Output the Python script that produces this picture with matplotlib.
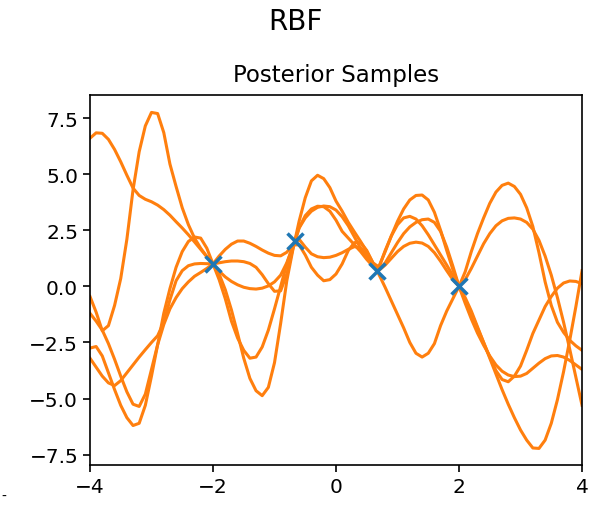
import numpy as np
import matplotlib
matplotlib.use("Agg")
import matplotlib.pyplot as plt

# observed training points
x_obs = [-2.0, -0.667, 0.667, 2.0]
y_obs = [1.0, 2.0, 0.7, 0.0]

# sample grid (step 0.1 from -4 to 4)
x_grid = np.round(np.arange(-4.0, 4.01, 0.1), 2)

# five posterior samples
sample1 = [6.60, 6.84, 6.82, 6.55, 6.10, 5.55, 4.95, 4.38, 4.05, 3.88, 3.77, 3.62, 3.42, 3.17, 2.88, 2.60, 2.30, 1.98, 1.65, 1.32, 1.00,
           0.68, 0.42, 0.22, 0.07, -0.04, -0.10, -0.12, -0.08, 0.02, 0.20, 0.50, 1.05, 1.80,
           2.10, 1.75, 1.45, 1.32, 1.28, 1.30, 1.38, 1.50, 1.65, 1.77, 1.72, 1.40, 0.95,
           0.72, 0.95, 1.25, 1.55, 1.78, 1.92, 1.97, 1.93, 1.78, 1.50, 1.12, 0.70, 0.30, 0.00,
           0.30, 0.80, 1.35, 1.90, 2.35, 2.70, 2.92, 3.03, 3.05, 3.00, 2.85, 2.55, 2.05, 1.35, 0.50, -0.50, -1.60, -2.80, -4.05, -5.30]
sample2 = [-0.45, -1.15, -1.98, -1.75, -0.85, 0.35, 2.10, 4.30, 6.00, 7.15, 7.75, 7.70, 6.85, 5.45, 4.45, 3.50, 2.75, 2.15, 1.70, 1.33, 1.00,
           0.55, -0.15, -1.05, -2.10, -3.20, -4.10, -4.65, -4.87, -4.50, -3.40, -1.65, 0.25, 1.65,
           2.90, 3.95, 4.70, 4.95, 4.80, 4.40, 3.80, 3.35, 2.85, 2.42, 2.00, 1.55, 1.05,
           0.52, -0.05, -0.65, -1.25, -1.85, -2.50, -2.98, -3.15, -2.98, -2.55, -1.75, -1.10, -0.55, 0.00,
           0.65, 1.55, 2.35, 3.05, 3.70, 4.20, 4.50, 4.60, 4.45, 4.10, 3.50, 2.67, 1.50, 0.20, -0.85, -1.60, -2.05, -2.40, -2.65, -2.85]
sample3 = [-2.75, -2.68, -3.10, -3.85, -4.60, -5.30, -5.85, -6.20, -6.10, -5.30, -4.00, -2.60, -1.20, -0.10, 0.85, 1.55, 2.00, 2.20, 2.15, 1.70, 1.00,
           0.30, -0.55, -1.55, -2.30, -2.85, -3.20, -3.15, -2.70, -1.95, -1.00, 0.00, 1.00, 1.80,
           2.60, 3.05, 3.35, 3.52, 3.58, 3.55, 3.40, 3.10, 2.70, 2.20, 1.70, 1.25, 0.90,
           0.75, 1.05, 1.50, 1.95, 2.35, 2.65, 2.85, 2.97, 3.00, 2.85, 2.45, 1.75, 0.90, 0.00,
           -0.75, -1.45, -2.08, -2.62, -3.10, -3.50, -3.78, -3.95, -4.02, -4.00, -3.88, -3.65, -3.42, -3.22, -3.10, -3.08, -3.15, -3.30, -3.50, -3.70]
sample4 = [-1.20, -1.55, -1.95, -2.55, -3.25, -4.00, -4.70, -5.25, -5.35, -4.80, -3.70, -2.60, -1.70, -1.00, -0.50, -0.10, 0.20, 0.45, 0.62, 0.80, 1.00,
           1.35, 1.65, 1.88, 2.02, 2.02, 1.92, 1.78, 1.62, 1.48, 1.38, 1.36, 1.52, 1.85,
           1.85, 1.40, 0.85, 0.50, 0.25, 0.30, 0.55, 1.00, 1.60, 1.95, 1.95, 1.60, 1.05,
           0.85, 1.60, 2.25, 2.75, 3.05, 3.12, 3.00, 2.70, 2.30, 1.85, 1.40, 0.95, 0.48, 0.00,
           -0.50, -1.10, -1.80, -2.50, -3.15, -3.75, -4.15, -4.25, -4.00, -3.55, -2.85, -2.10, -1.50, -0.90, -0.45, -0.08, 0.15, 0.24, 0.22, 0.12]
sample5 = [-3.20, -3.60, -4.00, -4.30, -4.42, -4.20, -3.85, -3.50, -3.15, -2.82, -2.50, -2.20, -1.60, -0.60, 0.25, 0.70, 0.92, 1.00, 1.02, 1.01, 1.00,
           1.05, 1.10, 1.13, 1.13, 1.10, 1.02, 0.85, 0.52, 0.12, -0.22, -0.20, 0.55, 1.70,
           2.60, 3.15, 3.45, 3.57, 3.55, 3.35, 2.95, 2.45, 2.15, 1.85, 1.55, 1.20, 0.90,
           0.90, 1.55, 2.25, 2.90, 3.45, 3.85, 4.05, 4.07, 3.85, 3.30, 2.50, 1.60, 0.75, 0.00,
           -0.60, -1.20, -1.85, -2.50, -3.20, -3.90, -4.60, -5.25, -5.85, -6.40, -6.85, -7.20, -7.22, -6.85, -6.10, -5.05, -3.80, -2.40, -0.90, 0.70]

samples = [sample1, sample2, sample3, sample4, sample5]

fig = plt.figure(figsize=(5.9, 5.06), dpi=100)
ax = fig.add_axes([0.1525, 0.079, 0.834, 0.731])

for s in samples:
    ax.plot(x_grid, s, color='#ff7f0e', lw=2.2, solid_joinstyle='round')
ax.plot(x_obs, y_obs, 'x', color='#1f77b4', ms=11, mew=2.5)

ax.set_xlim(-4, 4)
ax.set_ylim(-7.96, 8.52)
ax.set_xticks([-4, -2, 0, 2, 4])
ax.set_yticks([-7.5, -5.0, -2.5, 0.0, 2.5, 5.0, 7.5])
ax.tick_params(labelsize=14.5, length=5, width=1.2)
for sp in ax.spines.values():
    sp.set_linewidth(1.2)
ax.set_title('Posterior Samples', fontsize=16.5, pad=10)
fig.suptitle('RBF', fontsize=20, y=0.985)

# leftover tick dash of the neighbouring panel at the left edge
fig.text(0.002, 0.018, '-', fontsize=10, ha='left', va='center')

fig.savefig('out.png', dpi=100)
